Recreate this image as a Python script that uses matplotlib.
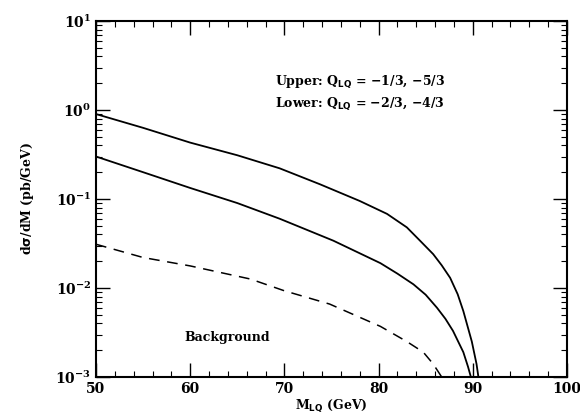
import matplotlib.pyplot as plt
from matplotlib.ticker import MultipleLocator, LogLocator, NullFormatter

# values
m_upper = [50, 55, 60, 65, 69.5, 73.8, 78.0, 80.9, 83.0, 84.4, 85.8, 86.7, 87.6, 88.4, 89.0, 89.9, 90.4, 90.6]
upper = [0.90, 0.63, 0.43, 0.31, 0.221, 0.146, 0.095, 0.068, 0.048, 0.034, 0.024, 0.018, 0.013, 0.0085, 0.0055, 0.0025, 0.0014, 0.001]

m_lower = [50, 55, 60, 65, 69.5, 75.2, 80.2, 82.0, 83.7, 85.0, 86.2, 87.1, 87.9, 89.0, 89.5, 89.8]
lower = [0.30, 0.20, 0.133, 0.090, 0.060, 0.034, 0.019, 0.0145, 0.011, 0.0084, 0.006, 0.0045, 0.0033, 0.0019, 0.0013, 0.001]

m_bkg = [50, 55, 60, 66.4, 70, 74.8, 80.2, 83.0, 84.75, 85.8, 86.7]
bkg = [0.031, 0.022, 0.0177, 0.0126, 0.0093, 0.0066, 0.0037, 0.0025, 0.0019, 0.0014, 0.001]

plt.rcParams['font.family'] = 'DejaVu Serif'
plt.rcParams['font.weight'] = 'bold'
plt.rcParams['axes.labelweight'] = 'bold'
plt.rcParams['mathtext.default'] = 'bf'

fig = plt.figure(figsize=(5.8, 4.13), dpi=100)
ax = fig.add_axes([0.1655, 0.0872, 0.812, 0.862])

ax.plot(m_upper, upper, color='black', lw=1.3)
ax.plot(m_lower, lower, color='black', lw=1.3)
ax.plot(m_bkg, bkg, color='black', lw=1.1, dashes=(7, 5))

ax.set_yscale('log')
ax.set_xlim(50, 100)
ax.set_ylim(1e-3, 1e1)
ax.xaxis.set_major_locator(MultipleLocator(10))
ax.xaxis.set_minor_locator(MultipleLocator(2))
ax.yaxis.set_major_locator(LogLocator(base=10, numticks=10))
ax.yaxis.set_minor_locator(LogLocator(base=10, subs=range(2, 10), numticks=10))
ax.yaxis.set_minor_formatter(NullFormatter())
ax.tick_params(which='both', direction='in', top=True, right=True, labelsize=10)
ax.tick_params(which='major', length=10, width=1)
ax.tick_params(which='minor', length=4, width=0.8)
for s in ax.spines.values():
    s.set_linewidth(1.5)

ax.set_xlabel(r'M$_{LQ}$ (GeV)', fontsize=9, labelpad=1)
ax.set_ylabel(r'd$\sigma$/dM (pb/GeV)', fontsize=9, labelpad=14)

ax.text(69.0, 2.06, r'Upper: Q$_{LQ}$ = $-$1/3, $-$5/3', fontsize=9, va='center')
ax.text(69.0, 1.17, r'Lower: Q$_{LQ}$ = $-$2/3, $-$4/3', fontsize=9, va='center')
ax.text(59.4, 0.0028, 'Background', fontsize=9, va='center')

fig.savefig('out.png', dpi=100)
